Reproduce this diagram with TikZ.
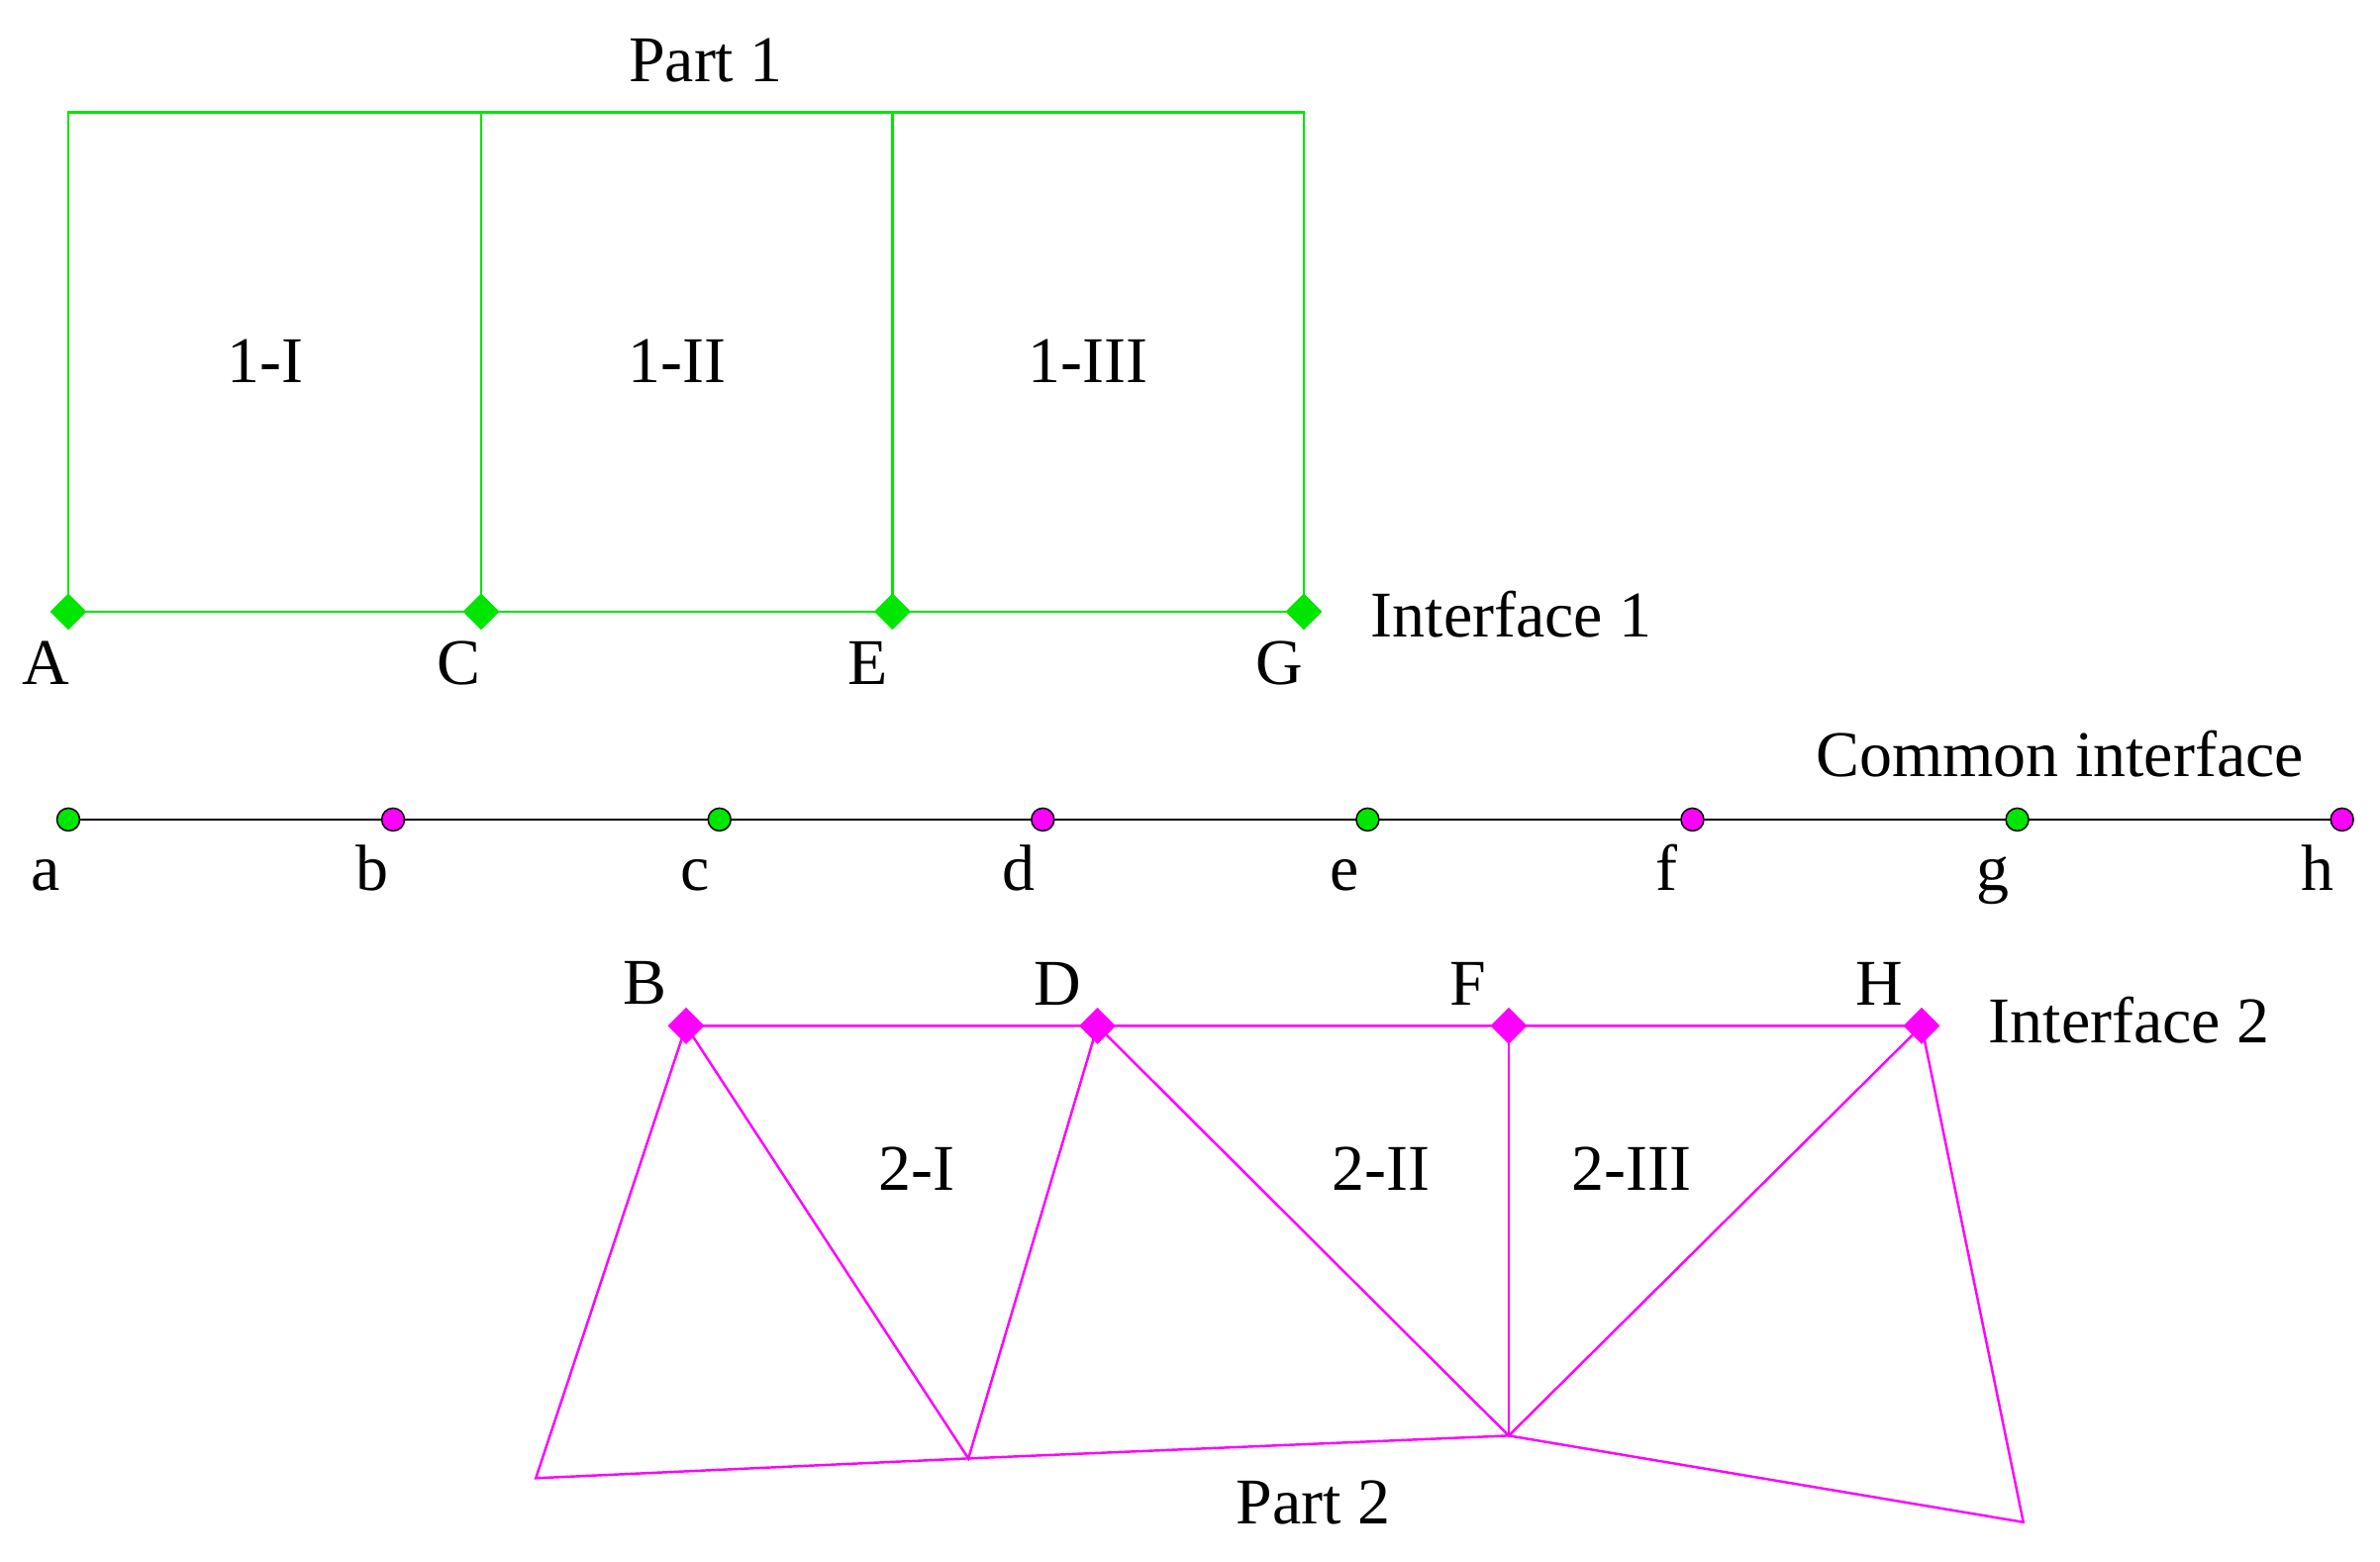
\documentclass[tikz,border=0pt]{standalone}
\usepackage{fontspec}
\setmainfont{Liberation Serif}
\usetikzlibrary{shapes.geometric}
\definecolor{gr}{RGB}{0,230,0}
\definecolor{mg}{RGB}{255,0,255}
\begin{document}
\begin{tikzpicture}[x=1pt,y=-1pt,
 lbl/.style={font=\fontsize{43}{47}\selectfont,inner sep=0},
 dg/.style={diamond,fill=gr,inner sep=0,minimum size=24pt},
 dm/.style={diamond,fill=mg,inner sep=0,minimum size=24pt},
 cgrn/.style={circle,draw=black,line width=1pt,fill=gr,inner sep=0,minimum size=15pt},
 cmag/.style={circle,draw=black,line width=1pt,fill=mg,inner sep=0,minimum size=15pt},
 g/.style={gr,line width=1.6pt},
 m/.style={mg,line width=1.6pt}]
\useasboundingbox (0,0) rectangle (1568,1029);
% Part 1
\coordinate (T1) at (45,74); \coordinate (T2) at (317,74); \coordinate (T3) at (588,74); \coordinate (T4) at (859,74);
\node[dg] (A) at (45,403) {}; \node[dg] (C) at (317,403) {};
\node[dg] (E) at (588,403) {}; \node[dg] (G) at (859,403) {};
\draw[g] (A.center) -- (T1) -- (T4) -- (G.center) -- (A.center);
\draw[g] (C.center) -- (T2); \draw[g] (E.center) -- (T3);
\node[dg] at (A) {}; \node[dg] at (C) {}; \node[dg] at (E) {}; \node[dg] at (G) {};
\node[lbl] (lA) at (30,437) {A}; \node[lbl] (lC) at (302,437) {C};
\node[lbl] (lE) at (572,437) {E}; \node[lbl] (lG) at (843,437) {G};
\node[lbl] (p1) at (465,40) {Part 1};
\node[lbl,anchor=west] (i1) at (903,405) {Interface 1};
\node[lbl] (r1) at (175,238) {1-I}; \node[lbl] (r2) at (446,238) {1-II}; \node[lbl] (r3) at (717,238) {1-III};
% Common interface
\draw[line width=1.4pt] (45,540) -- (1543,540);
\node[cgrn] (a) at (45,540) {}; \node[cmag] (b) at (259,540) {};
\node[cgrn] (c) at (474,540) {}; \node[cmag] (d) at (687,540) {};
\node[cgrn] (e) at (901,540) {}; \node[cmag] (f) at (1115,540) {};
\node[cgrn] (gg) at (1329,540) {}; \node[cmag] (h) at (1543,540) {};
\foreach \t/\x in {a/30,b/245,c/458,d/671,e/886,f/1098,g/1313,h/1527}
  \node[lbl,anchor=base] (l\t) at (\x,587) {\t};
\node[lbl] (ci) at (1357,497) {Common interface};
% Part 2
\node[dm] (B) at (452,676) {}; \node[dm] (D) at (723,676) {};
\node[dm] (F) at (994,676) {}; \node[dm] (H) at (1266,676) {};
\coordinate (P1) at (353,974); \coordinate (P2) at (638,961);
\coordinate (P3) at (994,946); \coordinate (P4) at (1333,1003);
\draw[m] (B.center) -- (H.center) -- (P4) -- (P3) -- (P2) -- (P1) -- (B.center) -- (P2) -- (D.center) -- (P3) -- (H.center);
\draw[m] (F.center) -- (P3);
\node[dm] at (B) {}; \node[dm] at (D) {}; \node[dm] at (F) {}; \node[dm] at (H) {};
\node[lbl] (lB) at (425,648) {B}; \node[lbl] (lD) at (697,648) {D};
\node[lbl] (lF) at (967,648) {F}; \node[lbl] (lH) at (1238,648) {H};
\node[lbl,anchor=west] (i2) at (1310,672) {Interface 2};
\node[lbl] (s1) at (604,770) {2-I}; \node[lbl] (s2) at (910,770) {2-II}; \node[lbl] (s3) at (1075,770) {2-III};
\node[lbl] (p2) at (865,990) {Part 2};
\end{tikzpicture}
\end{document}
